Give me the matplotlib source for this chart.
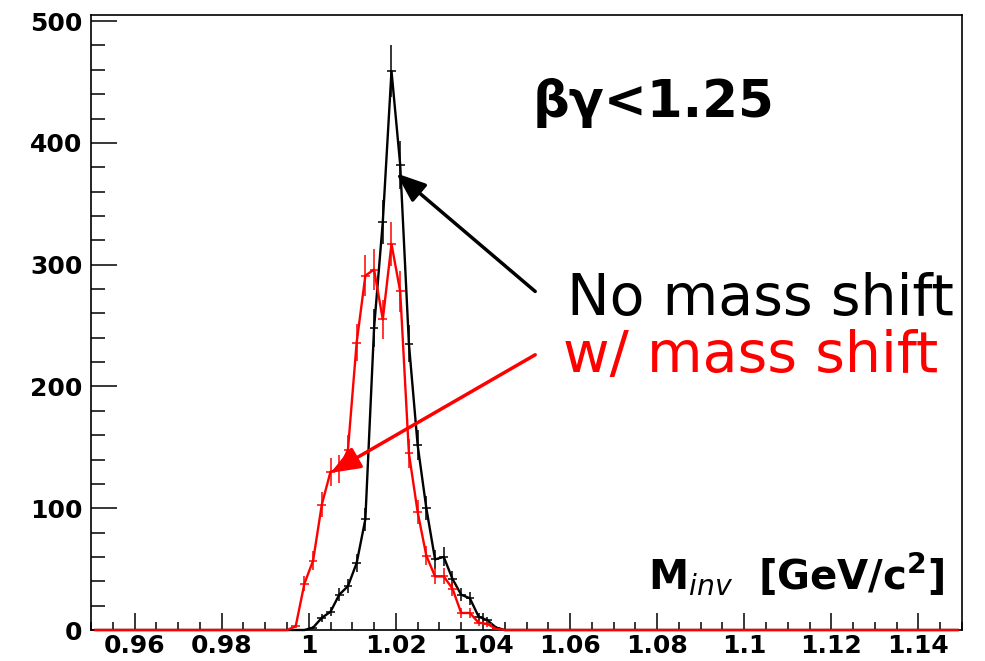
import numpy as np
import matplotlib.pyplot as plt
from matplotlib.ticker import MultipleLocator, FuncFormatter

plt.rcParams['font.family'] = 'DejaVu Sans'
plt.rcParams['mathtext.fontset'] = 'dejavusans'

# histogram binning: 100 bins of 0.002 GeV/c^2 between 0.95 and 1.15
bin_width = 0.002
x_min, x_max = 0.95, 1.15
n_bins = 100
first_filled = 0.995   # centre of the first listed bin below
# counts for the bins centred at 0.995, 0.997, ..., 1.045 (all others empty)
no_shift_counts = [0, 0, 0, 2, 10, 15, 29, 36, 55, 91, 248, 335, 459,
                   382, 235, 152, 100, 58, 60, 42, 29, 26, 11, 8, 2, 0]
shift_counts = [0, 3, 38, 57, 103, 130, 132, 148, 236, 291, 296, 255, 317,
                278, 145, 97, 61, 44, 44, 34, 14, 14, 6, 5, 1, 0]

centers = x_min + bin_width * (np.arange(n_bins) + 0.5)
start = int(round((first_filled - centers[0]) / bin_width))


def full_hist(counts):
    h = np.zeros(n_bins)
    h[start:start + len(counts)] = counts
    return h


def draw_hist(ax, counts, color):
    h = full_hist(counts)
    ax.plot(centers, h, color=color, lw=1.7, zorder=3, clip_on=False)
    filled = h > 0
    ax.errorbar(centers[filled], h[filled], xerr=bin_width / 2, yerr=np.sqrt(h[filled]),
                fmt='none', ecolor=color, elinewidth=1.1, capsize=0, zorder=3)


fig = plt.figure(figsize=(9.85, 6.61), dpi=100)
ax = fig.add_axes([91 / 985, 31 / 661, 871 / 985, 615 / 661])

draw_hist(ax, no_shift_counts, 'black')
draw_hist(ax, shift_counts, 'red')

ax.set_xlim(x_min, x_max)
ax.set_ylim(0, 505)
ax.xaxis.set_major_locator(MultipleLocator(0.02))
ax.xaxis.set_minor_locator(MultipleLocator(0.005))
ax.yaxis.set_major_locator(MultipleLocator(100))
ax.yaxis.set_minor_locator(MultipleLocator(20))
ax.xaxis.set_major_formatter(FuncFormatter(lambda v, p: '%g' % round(v, 3)))
ax.tick_params(axis='x', which='major', direction='in', length=12, width=1.1, pad=3)
ax.tick_params(axis='x', which='minor', direction='in', length=6, width=1.1)
ax.tick_params(axis='y', which='major', direction='in', length=19, width=1.1, pad=6)
ax.tick_params(axis='y', which='minor', direction='in', length=10, width=1.1)
for lab in ax.get_xticklabels() + ax.get_yticklabels():
    lab.set_fontsize(18)
    lab.set_fontweight('bold')
for sp in ax.spines.values():
    sp.set_linewidth(1.2)

# annotations
ax.text(1.0513, 421, 'βγ<1.25', fontsize=37, fontweight='bold', color='black')
ax.text(1.0594, 259, 'No mass shift', fontsize=41, color='black', clip_on=False)
ax.text(1.0584, 212, 'w/ mass shift', fontsize=41, color='red')
ax.text(1.146, 33, r'$\mathbf{M}_{\mathit{inv}}\ \ \mathbf{[GeV/c^{2}]}$', fontsize=29,
        ha='right', color='black')

arrow = '-|>,head_length=0.9,head_width=0.35'
ax.annotate('', xy=(1.0201, 375), xytext=(1.0520, 278),
            arrowprops=dict(arrowstyle=arrow, color='black', lw=2.5, mutation_scale=20,
                            shrinkA=0, shrinkB=0))
ax.annotate('', xy=(1.0050, 129), xytext=(1.0520, 226),
            arrowprops=dict(arrowstyle=arrow, color='red', lw=2.5, mutation_scale=20,
                            shrinkA=0, shrinkB=0))

fig.savefig('out.png', dpi=100)
